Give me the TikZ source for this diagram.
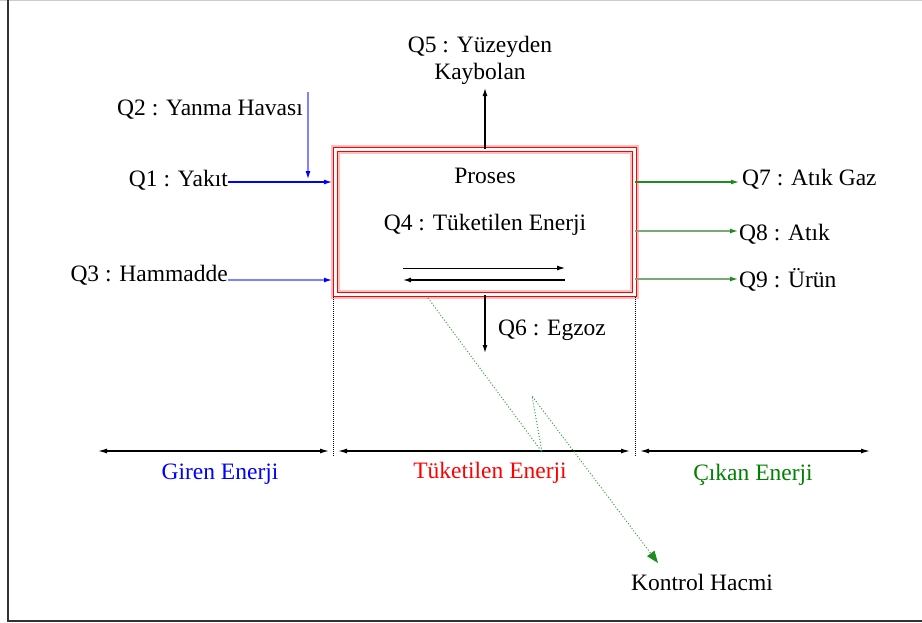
\documentclass[tikz,border=0pt]{standalone}
\usepackage{fontspec}
\setmainfont{Liberation Serif}
\newfontfamily\tnr{Liberation Serif}
\usetikzlibrary{arrows.meta}
\definecolor{lblue}{RGB}{130,130,255}
\definecolor{dgreen}{RGB}{0,128,0}
\definecolor{mgreen}{RGB}{30,140,30}
\definecolor{lgreen}{RGB}{120,170,120}
\definecolor{kgreen}{RGB}{60,160,60}
\begin{document}
\begin{tikzpicture}[x=1pt,y=-1pt,
  lbl/.style={font=\tnr\fontsize{23.5}{26}\selectfont, inner sep=0pt},
  tip/.style={-{Latex[length=8pt,width=5pt]}},
  twotip/.style={{Latex[length=9pt,width=5pt]}-{Latex[length=9pt,width=5pt]}, line width=1.3pt},
  vdot/.style={densely dotted, line width=1pt}]
\useasboundingbox (0,0) rectangle (922,622);
\fill[white] (0,0) rectangle (922,622);
\draw[gray!40, line width=1pt] (0,0.5) -- (922,0.5);
\draw[black!80, line width=1.5pt] (8,0) -- (8,621) -- (922,621);

% process box
\draw[red!25, line width=8.5pt] (335.5,149.5) rectangle (634.5,294.5);
\node[draw=red, double=white, double distance=3.5pt, line width=1.1pt,
      minimum width=299pt, minimum height=145pt, inner sep=0pt] (box) at (485,222) {};
\node[lbl, anchor=base] (proses) at (485,183) {Proses};
\node[lbl, anchor=base] (q4) at (485,230) {Q4 : Tüketilen Enerji};
\coordinate (ia1) at (403,268); \coordinate (ia2) at (565,268);
\coordinate (ib1) at (565,280); \coordinate (ib2) at (403,280);
\draw[tip, line width=1pt] (ia1) -- (ia2);
\draw[tip, line width=1.3pt] (ib1) -- (ib2);

% Q5
\node[lbl, anchor=base] (q5a) at (480,52) {Q5 : Yüzeyden};
\node[lbl, anchor=base] (q5b) at (480,79) {Kaybolan};
\coordinate (q5tip) at (485,88);
\draw[tip, line width=1.3pt] (box.north) -- (q5tip);

% Q6
\node[lbl, anchor=base west] (q6) at (498,335) {Q6 : Egzoz};
\coordinate (q6tip) at (485,353);
\draw[tip, line width=1.3pt] (box.south) -- (q6tip);

% inputs
\node[lbl, anchor=base east] (q1) at (228,186) {Q1 : Yakıt};
\node[lbl, anchor=base east] (q2) at (303,115) {Q2 : Yanma Havası};
\node[lbl, anchor=base east] (q3) at (228,281) {Q3 : Hammadde};
\coordinate (q1e) at (332,182);
\coordinate (q3e) at (332,280);
\coordinate (q2s) at (308,92);
\coordinate (q2e) at (308,179);
\draw[blue, line width=1.2pt, tip] (q1.east |- q1e) -- (q1e);
\draw[lblue, line width=1.1pt, -{Latex[length=8pt,width=5pt,color=blue]}] (q2s) -- (q2e);
\draw[lblue, line width=1.3pt, -{Latex[length=8pt,width=5pt,color=blue]}] (q3.east |- q3e) -- (q3e);

% outputs
\node[lbl, anchor=base west] (q7) at (742,185) {Q7 : Atık Gaz};
\node[lbl, anchor=base west] (q8) at (739,240) {Q8 : Atık};
\node[lbl, anchor=base west] (q9) at (739,287) {Q9 : Ürün};
\coordinate (y7) at (0,182);
\coordinate (y8) at (0,231);
\coordinate (y9) at (0,279);
\draw[mgreen, line width=1.2pt, tip] (box.east |- y7) -- ([xshift=-3pt]q7.west |- y7);
\draw[lgreen, line width=1.3pt, -{Latex[length=8pt,width=5pt,color=mgreen]}] (box.east |- y8) -- ([xshift=-1pt]q8.west |- y8);
\draw[lgreen, line width=1.3pt, -{Latex[length=8pt,width=5pt,color=mgreen]}] (box.east |- y9) -- ([xshift=-1pt]q9.west |- y9);

% control volume boundaries
\coordinate (dl1) at (333,297); \coordinate (dl2) at (333,456);
\coordinate (dr1) at (635,297); \coordinate (dr2) at (635,456);
\draw[vdot] (dl1) -- (dl2);
\draw[vdot] (dr1) -- (dr2);

\coordinate (g1) at (98,451);  \coordinate (g2) at (329,451);
\coordinate (t1) at (338,451); \coordinate (t2) at (630,451);
\coordinate (c1) at (640,451); \coordinate (c2) at (870,451);
\draw[twotip] (g1) -- (g2);
\draw[twotip] (t1) -- (t2);
\draw[twotip] (c1) -- (c2);
\node[lbl, anchor=base, text=blue] (giren) at (220,479) {Giren Enerji};
\node[lbl, anchor=base, text=red] (tuk) at (490,478) {Tüketilen Enerji};
\node[lbl, anchor=base, text=dgreen] (cikan) at (753,480) {Çıkan Enerji};

% Kontrol Hacmi
\node[lbl, anchor=base] (kh) at (702,590) {Kontrol Hacmi};
\coordinate (z1) at (428,298); \coordinate (z2) at (542,452);
\coordinate (z3) at (532,396); \coordinate (z4) at (658,563);
\draw[kgreen, dotted, line width=1pt, -{Triangle[length=12pt,width=9pt,color=mgreen]}] (z1) -- (z2) -- (z3) -- (z4);
\end{tikzpicture}
\end{document}
